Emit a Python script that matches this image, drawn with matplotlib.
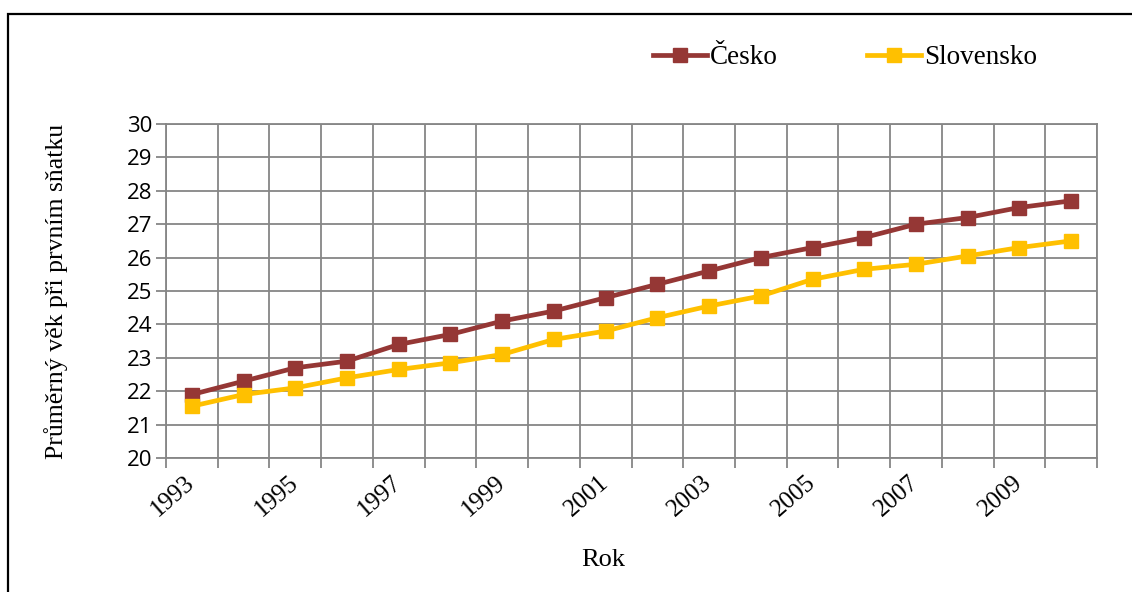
import numpy as np
import matplotlib
matplotlib.use('Agg')
import matplotlib.pyplot as plt
import matplotlib.transforms as mtransforms
from matplotlib.patches import Rectangle
from matplotlib.lines import Line2D

##################################################
# data

years = list(range(1993, 2011))
cesko = [21.9, 22.3, 22.7, 22.9, 23.4, 23.7, 24.1, 24.4, 24.8, 25.2,
         25.6, 26.0, 26.3, 26.6, 27.0, 27.2, 27.5, 27.7]
slovensko = [21.55, 21.9, 22.1, 22.4, 22.65, 22.85, 23.1, 23.55, 23.8, 24.2,
             24.55, 24.85, 25.35, 25.65, 25.8, 26.05, 26.3, 26.5]
series_names = ['Česko', 'Slovensko']
series_colors = ['#953735', '#FFC000']
yticks = list(range(20, 31))

##################################################
# basic settings

serif = ['Liberation Serif', 'DejaVu Serif']
sans = ['Open Sans', 'DejaVu Sans']
plt.rcParams['font.family'] = serif
grid_color = '#868686'

##################################################
# main program

fig = plt.figure(figsize=(11.32, 5.92), dpi=100)
ax = fig.add_axes([166/1132, 1-458/592, (1097-166)/1132, (458-124)/592])

x = np.arange(len(years))
for vals, name, col in zip([cesko, slovensko], series_names, series_colors):
    ax.plot(x, vals, color=col, lw=3.4, marker='s', ms=9.5, label=name, zorder=3)

ax.set_xlim(-0.5, len(years)-0.5)
ax.set_ylim(20, 30)

# category boundaries carry the gridlines and ticks
ax.set_xticks(np.arange(-0.5, len(years)), minor=True)
ax.set_xticks([])
ax.tick_params(axis='x', which='minor', length=7, width=1.3, color=grid_color, direction='out')
ax.grid(True, axis='x', which='minor', color=grid_color, lw=1.3)

# year labels written by hand, every second category
lab_trans = mtransforms.offset_copy(ax.get_xaxis_transform(), fig=fig, x=0, y=-22, units='dots')
for xi, yr in zip(x[::2], years[::2]):
    ax.text(xi, 0, str(yr), transform=lab_trans, rotation=41, ha='right', va='center',
            rotation_mode='anchor', fontsize=18, family=serif)

ax.set_yticks(yticks)
ax.set_yticklabels([str(t) for t in yticks], fontsize=16, family=sans)
ax.tick_params(axis='y', length=7, width=1.3, color=grid_color, pad=3)
ax.grid(True, axis='y', which='major', color=grid_color, lw=1.3)
ax.set_axisbelow(True)

for s in ax.spines.values():
    s.set_color(grid_color)
    s.set_linewidth(1.3)

ax.set_ylabel('Průměrný věk při prvním sňatku', fontsize=18.5, labelpad=42, family=serif)
fig.text(603/1132, 1-560/592, 'Rok', fontsize=19, ha='center', va='center', family=serif)

handles = [Line2D([], [], color=c, lw=3.4, marker='s', ms=9.5) for c in series_colors]
fig.legend(handles, series_names, loc='center', bbox_to_anchor=(845/1132, 1-58/592),
           ncol=2, frameon=False, handlelength=2.0, handletextpad=0.1,
           columnspacing=3.3, prop={'size': 19.5, 'family': serif})

# outer frame, cut off at the right and bottom like the original
fig.patches.append(Rectangle((8/1132, -0.1), 1.2, 1.1-14/592, transform=fig.transFigure,
                             fill=False, ec='black', lw=1.6))

plt.savefig('out.png', dpi=100)
